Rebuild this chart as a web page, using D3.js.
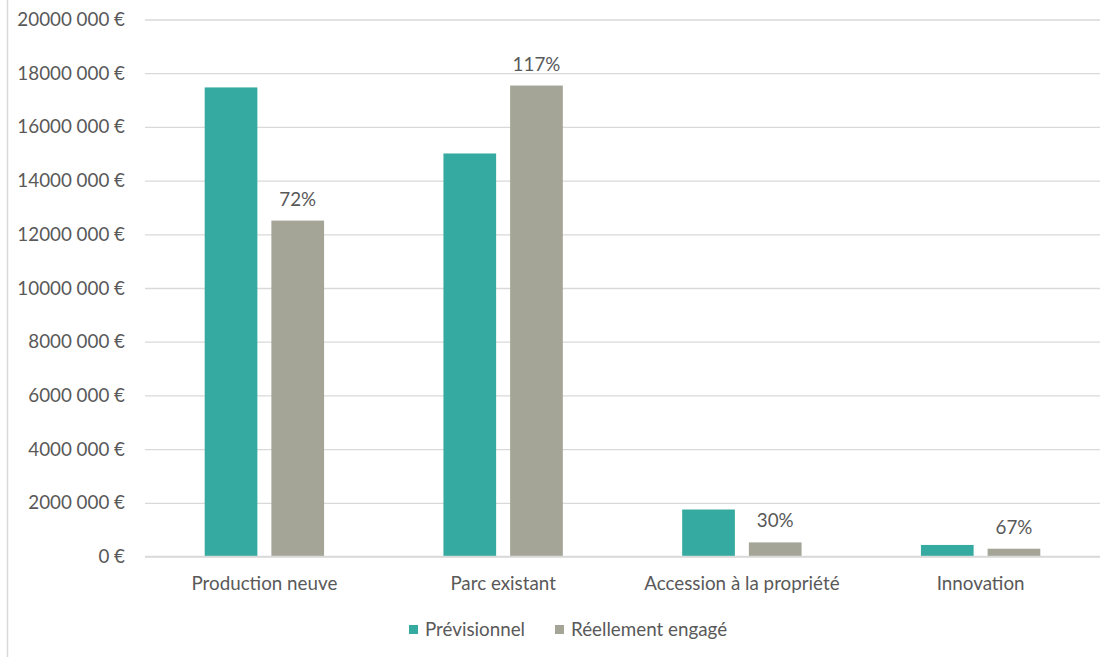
<!DOCTYPE html>
<html>
<head>
<meta charset="utf-8">
<script src="https://cdn.jsdelivr.net/npm/d3@7"></script>
<style>
  html, body { margin: 0; padding: 0; background: #fff; }
  svg text { font-family: Lato, "Open Sans", sans-serif; fill: #595959; }
</style>
</head>
<body>
<svg id="chart" width="1115" height="657"></svg>
<script>
// Budget par axe : prévisionnel vs réellement engagé
const categories = ["Production neuve", "Parc existant", "Accession à la propriété", "Innovation"];
const seriesNames = ["Prévisionnel", "Réellement engagé"];
const previsionnel = [17470000, 15010000, 1750000, 430000];
const engage = [12510000, 17540000, 525000, 290000];
const tauxLabels = ["72%", "117%", "30%", "67%"];
const tickValues = [0, 2000000, 4000000, 6000000, 8000000, 10000000, 12000000, 14000000, 16000000, 18000000, 20000000];
const tickLabels = ["0 €", "2000 000 €", "4000 000 €", "6000 000 €", "8000 000 €", "10000 000 €",
                    "12000 000 €", "14000 000 €", "16000 000 €", "18000 000 €", "20000 000 €"];
const colors = ["#35AAA0", "#A4A497"];

const FONT = "18.8px";
const svg = d3.select("#chart");
const margin = { left: 145, right: 15, top: 19.5, bottom: 100.5 };
const W = 1115, H = 657;

// outer frame edge on the left
svg.append("line")
  .attr("x1", 7.5).attr("x2", 7.5).attr("y1", 0).attr("y2", H)
  .attr("stroke", "#d9d9d9").attr("stroke-width", 1.5);

const x0 = d3.scaleBand()
  .domain(categories)
  .range([margin.left, W - margin.right])
  .paddingInner(0.5).paddingOuter(0.25);

const x1 = d3.scaleBand()
  .domain(seriesNames)
  .range([0, x0.bandwidth()])
  .paddingInner(0.21);

const y = d3.scaleLinear()
  .domain([0, 20000000])
  .range([H - margin.bottom, margin.top]);

// horizontal gridlines + labels via axis
const yAxis = d3.axisLeft(y)
  .tickValues(tickValues)
  .tickFormat((d, i) => tickLabels[i])
  .tickSize(-(W - margin.right - margin.left))
  .tickPadding(20);

const gy = svg.append("g")
  .attr("transform", `translate(${margin.left},0)`)
  .call(yAxis);
gy.select(".domain").remove();
gy.selectAll(".tick line").attr("stroke", "#d9d9d9").attr("stroke-width", 1.3);
gy.selectAll(".tick text").style("font-size", FONT).attr("fill", "#595959");

// bars
const data = categories.map((c, i) => ({ cat: c, vals: [previsionnel[i], engage[i]], label: tauxLabels[i] }));

const groups = svg.append("g").selectAll("g")
  .data(data).join("g")
  .attr("transform", d => `translate(${x0(d.cat)},0)`);

groups.selectAll("rect")
  .data(d => d.vals.map((v, j) => ({ name: seriesNames[j], v, j })))
  .join("rect")
  .attr("x", d => x1(d.name))
  .attr("width", x1.bandwidth())
  .attr("y", d => y(d.v))
  .attr("height", d => y(0) - y(d.v))
  .attr("fill", d => colors[d.j]);

// redraw baseline over bars
svg.append("line")
  .attr("x1", margin.left).attr("x2", W - margin.right)
  .attr("y1", y(0)).attr("y2", y(0))
  .attr("stroke", "#d9d9d9").attr("stroke-width", 1.3);

// percentage labels above the "engagé" bar
groups.append("text")
  .attr("x", x1(seriesNames[1]) + x1.bandwidth() / 2)
  .attr("y", (d) => y(d.vals[1]) - 15)
  .attr("text-anchor", "middle")
  .style("font-size", FONT)
  .text(d => d.label);

// category axis
const xAxis = d3.axisBottom(x0).tickSize(0).tickPadding(20);
const gx = svg.append("g")
  .attr("transform", `translate(0,${y(0)})`)
  .call(xAxis);
gx.select(".domain").remove();
gx.selectAll(".tick text").style("font-size", FONT).attr("fill", "#595959");

// legend
const legend = svg.append("g").attr("transform", "translate(0,629)");
const legendX = [409, 555];
seriesNames.forEach((n, i) => {
  const g = legend.append("g").attr("transform", `translate(${legendX[i]},0)`);
  g.append("rect").attr("x", 0).attr("y", -4).attr("width", 9).attr("height", 9).attr("fill", colors[i]);
  g.append("text").attr("x", 16).attr("y", 0).attr("dy", "0.35em")
    .style("font-size", FONT).text(n);
});
</script>
</body>
</html>
